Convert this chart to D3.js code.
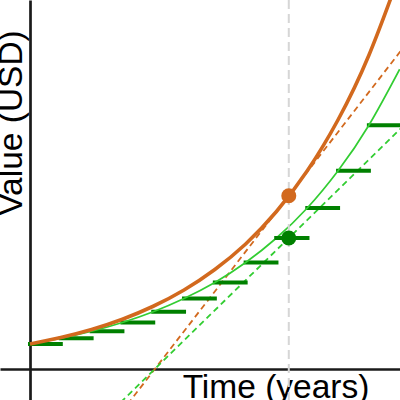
<!DOCTYPE html>
<html>
<head>
<meta charset="utf-8">
<script src="https://cdn.jsdelivr.net/npm/d3@7"></script>
<style>
  html, body { margin: 0; padding: 0; background: #fff; }
  svg { display: block; }
</style>
</head>
<body>
<div id="chart"></div>
<script>
// values (USD, principal 1000)
const years = [0, 1, 2, 3, 4, 5, 6, 7, 8, 9, 10, 11, 12];
const continuousValues = [1000, 1260, 1580, 1990, 2510, 3160, 3980, 5000, 6300, 7930, 9970, 12550, 15800];
const discreteValues = [1000, 1230, 1510, 1860, 2290, 2820, 3460, 4260, 5240, 6440, 7930, 9750, 11990];
const markerTime = 8.4;
const markerValues = [6930, 5240];      // continuous, discrete
const tangentSlopes = [1594, 1205];     // USD per year
const labels = ["Time (years)", "Value (USD)"];

function chart() {
    let width = 400,
        height = 400;

    const x = d3.scaleLinear().domain([-0.974, 12.01]).range([0, width]);
    const y = d3.scaleLinear().domain([-1240, 14760]).range([height, 0]);

    const svg = d3.select("#chart").append("svg")
        .attr("width", width)
        .attr("height", height);

    // axes through the origin, no ticks
    svg.append("g")
        .attr("transform", "translate(0," + y(0) + ")")
        .call(d3.axisBottom(x).tickValues([]).tickSizeOuter(0))
        .select(".domain")
        .attr("stroke", "#1a1a1a")
        .attr("stroke-width", 2.7);

    svg.append("g")
        .attr("transform", "translate(" + x(0) + ",0)")
        .call(d3.axisLeft(y).tickValues([]).tickSizeOuter(0))
        .select(".domain")
        .attr("stroke", "#1a1a1a")
        .attr("stroke-width", 2.7);

    svg.append("text")
        .attr("x", 276)
        .attr("y", 397.5)
        .attr("text-anchor", "middle")
        .style("font-family", "'Liberation Sans', Arial, sans-serif")
        .style("font-size", "33.5px")
        .attr("fill", "#000")
        .text(labels[0]);

    svg.append("text")
        .attr("transform", "translate(22,123) rotate(-90)")
        .attr("text-anchor", "middle")
        .style("font-family", "'Liberation Sans', Arial, sans-serif")
        .style("font-size", "33.5px")
        .attr("fill", "#000")
        .text(labels[1]);

    // tangent lines through the two markers
    const tRange = [-1, 13];
    const tangentColors = ["#d2691e", "#32cd32"];
    markerValues.forEach(function(v, i) {
        const pts = tRange.map(t => [t, v + tangentSlopes[i] * (t - markerTime)]);
        svg.append("path")
            .attr("d", d3.line().x(d => x(d[0])).y(d => y(d[1]))(pts))
            .attr("fill", "none")
            .attr("stroke", tangentColors[i])
            .attr("stroke-width", 1.8)
            .attr("stroke-dasharray", "6,4");
    });

    // discrete compounding steps
    svg.selectAll(".step")
        .data(discreteValues.slice(0, 12))
        .enter()
        .append("line")
        .attr("class", "step")
        .attr("x1", (d, i) => x(years[i]))
        .attr("x2", (d, i) => x(years[i] + 1))
        .attr("y1", d => y(d))
        .attr("y2", d => y(d))
        .attr("stroke", "#008000")
        .attr("stroke-width", 4)
        .attr("stroke-linecap", "square");

    const line = d3.line()
        .x(d => x(d[0]))
        .y(d => y(d[1]))
        .curve(d3.curveNatural);

    svg.append("path")
        .attr("d", line(years.map((t, i) => [t, discreteValues[i]])))
        .attr("fill", "none")
        .attr("stroke", "#32cd32")
        .attr("stroke-width", 1.7);

    svg.append("path")
        .attr("d", line(years.map((t, i) => [t, continuousValues[i]])))
        .attr("fill", "none")
        .attr("stroke", "#d2691e")
        .attr("stroke-width", 3.6);

    // vertical marker line
    svg.append("line")
        .attr("x1", x(markerTime))
        .attr("x2", x(markerTime))
        .attr("y1", 0)
        .attr("y2", height)
        .attr("stroke", "#d6d6d6")
        .attr("stroke-width", 2)
        .attr("stroke-dasharray", "9,5");

    svg.selectAll(".dot")
        .data(markerValues)
        .enter()
        .append("circle")
        .attr("class", "dot")
        .attr("cx", x(markerTime))
        .attr("cy", d => y(d))
        .attr("r", 7.5)
        .attr("fill", (d, i) => ["#d2691e", "#008000"][i]);

    // the current step drawn again over the vertical line
    svg.append("line")
        .attr("x1", x(8))
        .attr("x2", x(9))
        .attr("y1", y(markerValues[1]))
        .attr("y2", y(markerValues[1]))
        .attr("stroke", "#008000")
        .attr("stroke-width", 4)
        .attr("stroke-linecap", "square");
}

chart();
</script>
</body>
</html>
